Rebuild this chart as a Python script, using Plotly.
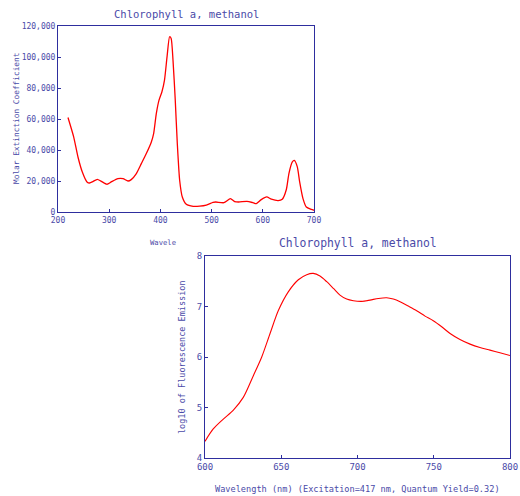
import plotly.graph_objects as go

# Absorption spectrum (top)
abs_wl = [219.5, 230.6, 239, 247.5, 256.6, 261.8, 268, 276.8, 284.6, 295.7, 304, 317, 327, 336.7, 343,
          353, 362.8, 372.5, 382.3, 386.8, 392, 397.3, 403, 408, 413, 418, 421, 424.6, 429, 433, 437.6,
          442.8, 450.6, 464, 476.7, 489.7, 502.7, 508, 524, 536.7, 545, 553, 569, 580.9, 587.4,
          597, 607.6, 616.7, 630, 638, 646, 651, 657.7, 661.5, 667.4, 672, 678.5, 685, 694.8, 700]
abs_eps = [61000, 48500, 35500, 25800, 19400, 18700, 19600, 21100, 19800, 17900, 19400, 21500, 21500, 20000, 20900,
           24800, 31200, 37700, 45200, 50600, 63500, 72200, 77600, 85100, 100200, 113100, 112000, 98000, 72200, 44200, 20500,
           9700, 5000, 3700, 3800, 4500, 6200, 6450, 6000, 8600, 6700, 6450, 6900, 6000, 5400,
           8000, 9700, 8300, 7400, 8200, 14500, 24800, 32300, 33300, 29100, 19400, 8600, 3200, 1700, 1100]

# Emission spectrum (bottom)
em_wl = [600, 605.4, 612, 618.6, 625.1, 631.7, 637.2, 642.6, 648.1, 654.6, 661.2, 666.7, 671,
         675.4, 679.8, 684.2, 688.5, 692.9, 697.3, 702.7, 708.2, 713.7,
         719.1, 723.5, 727.9, 733.3, 738.8, 744.3, 749.7, 755.2, 760.7, 767.2, 773.8, 780.3, 786.9, 793.4, 800]
em_log = [4.33, 4.575, 4.77, 4.95, 5.20, 5.63, 6.0, 6.46, 6.92, 7.29, 7.53, 7.63, 7.655,
          7.603, 7.491, 7.359, 7.226, 7.147, 7.114, 7.101, 7.127, 7.16,
          7.174, 7.147, 7.094, 7.008, 6.916, 6.81, 6.717, 6.598, 6.466, 6.347, 6.255, 6.188, 6.136, 6.083, 6.03]

title_text = "Chlorophyll a, methanol"
abs_ytitle = "Molar Extinction Coefficient"
abs_xtitle = "Wavele"
em_ytitle = "log10 of Fluorescence Emission"
em_xtitle = "Wavelength (nm) (Excitation=417 nm, Quantum Yield=0.32)"

AX = "#2e2e9e"
TX = "#4a4aa8"
FONT = "DejaVu Sans Mono"

fig = go.Figure()
fig.add_trace(go.Scatter(x=abs_wl, y=abs_eps, mode="lines", line=dict(color="#ff0000", width=1.3, shape="spline", smoothing=0.6),
                         xaxis="x", yaxis="y", showlegend=False))
fig.add_trace(go.Scatter(x=em_wl, y=em_log, mode="lines", line=dict(color="#ff0000", width=1.1, shape="spline", smoothing=0.8),
                         xaxis="x2", yaxis="y2", showlegend=False))

W, H = 520, 496
def px(x0, x1):
    return [x0 / W, x1 / W]
def py(y0, y1):
    return [1 - y1 / H, 1 - y0 / H]

common = dict(showline=True, linecolor=AX, linewidth=1, mirror=True, showgrid=False, zeroline=False,
              automargin=False, ticks="inside", ticklen=3, tickcolor=AX,
              tickfont=dict(family=FONT, size=8, color=TX))

fig.update_layout(
    width=W, height=H, margin=dict(l=0, r=0, t=0, b=0, pad=0, autoexpand=False), autosize=False,
    paper_bgcolor="white", plot_bgcolor="white",
    xaxis=dict(domain=px(58, 314), range=[200, 700], tickvals=[200, 300, 400, 500, 600, 700], anchor="y", **common),
    yaxis=dict(domain=py(26, 212), range=[0, 120000], tickvals=[0, 20000, 40000, 60000, 80000, 100000, 120000],
               tickformat=",d", anchor="x", **common),
    xaxis2=dict(domain=px(205, 510), range=[600, 800], tickvals=[600, 650, 700, 750, 800], anchor="y2",
                **{**common, "tickfont": dict(family=FONT, size=9, color=TX)}),
    yaxis2=dict(domain=py(256, 458), range=[4, 8], tickvals=[4, 5, 6, 7, 8], anchor="x2",
                **{**common, "tickfont": dict(family=FONT, size=9, color=TX)}),
)

fig.add_annotation(text=title_text, x=186 / W, y=1 - 14 / H, xref="paper", yref="paper", showarrow=False,
                   font=dict(family=FONT, size=10.5, color=TX), xanchor="center", yanchor="middle")
fig.add_annotation(text=abs_ytitle, x=16 / W, y=1 - 119 / H, xref="paper", yref="paper", showarrow=False, textangle=-90,
                   font=dict(family=FONT, size=7.8, color=TX), xanchor="center", yanchor="middle")
fig.add_annotation(text=abs_xtitle, x=163 / W, y=1 - 242 / H, xref="paper", yref="paper", showarrow=False,
                   font=dict(family=FONT, size=7.2, color=TX), xanchor="center", yanchor="middle")
fig.add_annotation(text=title_text, x=358 / W, y=1 - 243 / H, xref="paper", yref="paper", showarrow=False,
                   font=dict(family=FONT, size=11.4, color=TX), xanchor="center", yanchor="middle")
fig.add_annotation(text=em_ytitle, x=182 / W, y=1 - 357 / H, xref="paper", yref="paper", showarrow=False, textangle=-90,
                   font=dict(family=FONT, size=8.5, color=TX), xanchor="center", yanchor="middle")
fig.add_annotation(text=em_xtitle, x=357 / W, y=1 - 489 / H, xref="paper", yref="paper", showarrow=False,
                   font=dict(family=FONT, size=8.6, color=TX), xanchor="center", yanchor="middle")

fig.write_html("out.html", config={"displayModeBar": False},
               post_script="document.body.style.margin='0px';document.body.style.padding='0px';"
                           "document.body.style.overflow='hidden';")
